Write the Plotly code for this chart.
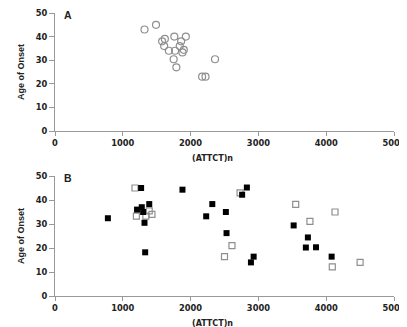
import plotly.graph_objects as go
from plotly.subplots import make_subplots

# Panel A (open circles)
a_x = [1320, 1490, 1620, 1760, 1930, 1580, 1860, 1610, 1840, 1680, 1770, 1900, 1880, 1750, 1790, 2170, 2220, 2360]
a_y = [43, 45, 39, 40, 40, 38, 38, 36, 36, 34, 34, 34.4, 33.3, 30.4, 27, 23, 23, 30.4]

# Panel B filled squares
bf_x = [780, 1270, 1210, 1280, 1300, 1390, 1320, 1330, 1880, 2320, 2230, 2520, 2530, 2830, 2760, 2930, 2890, 3520, 3730, 3700, 3850, 4080]
bf_y = [32.4, 45, 36, 37, 35, 38.3, 30.5, 18.2, 44.3, 38.3, 33.2, 35, 26.2, 45.2, 42.2, 16.4, 14, 29.4, 24.4, 20.2, 20.3, 16.4]

# Panel B open squares
bo_x = [1180, 1390, 1430, 1200, 1340, 2730, 2610, 2500, 3550, 3760, 4130, 4090, 4500]
bo_y = [45, 35.5, 34, 33.3, 33.3, 43, 21, 16.4, 38.2, 31.1, 35, 12.1, 14]

x_ticks = [0, 1000, 2000, 3000, 4000, 5000]
y_ticks = [0, 10, 20, 30, 40, 50]
panel_labels = ["A", "B"]
x_title = "(ATTCT)n"
y_title = "Age of Onset"

OFF = 8  # page body margin offset
W, H = 407 - OFF, 327 - OFF
L, R = 55 - OFF, W - (394 - OFF)

def py(page_y):
    return 1 - (page_y - OFF) / H

def px(page_x):
    return (page_x - 55) / (394 - 55)

fig = make_subplots(rows=2, cols=1)

fig.add_trace(go.Scatter(x=a_x, y=a_y, mode="markers",
                         marker=dict(symbol="circle-open", size=7, color="#8f8f8f", line=dict(width=1.2)),
                         showlegend=False), row=1, col=1)
fig.add_trace(go.Scatter(x=bo_x, y=bo_y, mode="markers",
                         marker=dict(symbol="square-open", size=6, color="#8f8f8f", line=dict(width=1.2)),
                         showlegend=False), row=2, col=1)
fig.add_trace(go.Scatter(x=bf_x, y=bf_y, mode="markers",
                         marker=dict(symbol="square", size=6, color="black"),
                         showlegend=False), row=2, col=1)

tickfont = dict(family="DejaVu Sans", size=8.3, color="#222", weight="bold")
xtitlefont = dict(family="DejaVu Sans", size=8, color="#222", weight="bold")
ytitlefont = dict(family="Liberation Sans", size=9, color="#222", weight="bold")

domains_y = [[py(131), py(13)], [py(296), py(176)]]
xtitle_y = [py(158), py(323)]
label_y = [py(14.5), py(177.5)]
for i in range(2):
    xa = "xaxis" if i == 0 else "xaxis2"
    ya = "yaxis" if i == 0 else "yaxis2"
    fig.layout[xa].update(range=[0, 5000], tickvals=x_ticks, ticks="outside", ticklen=4,
                          tickcolor="#999", showline=True, linecolor="#999", linewidth=1,
                          showgrid=False, zeroline=False, tickfont=tickfont,
                          ticklabeloverflow="allow",
                          automargin=False, domain=[0, 1])
    fig.layout[ya].update(range=[0, 50], tickvals=y_ticks, ticks="outside", ticklen=5,
                          tickcolor="#999", showline=True, linecolor="#999", linewidth=1,
                          showgrid=False, zeroline=False, tickfont=tickfont,
                          ticklabeloverflow="allow",
                          automargin=False, domain=domains_y[i])
    fig.add_annotation(text=panel_labels[i], xref="paper", yref="paper",
                       x=px(68), y=label_y[i], xanchor="center", yanchor="middle",
                       showarrow=False, font=dict(family="Liberation Sans", size=10.5, color="#222", weight="bold"))
    fig.add_annotation(text=x_title, xref="paper", yref="paper",
                       x=px(212), y=xtitle_y[i], xanchor="center", yanchor="middle",
                       showarrow=False, font=xtitlefont)
    fig.add_annotation(text=y_title, xref="paper", yref="paper", textangle=-90,
                       x=px(21), y=(domains_y[i][0] + domains_y[i][1]) / 2,
                       xanchor="center", yanchor="middle",
                       showarrow=False, font=ytitlefont)

fig.update_layout(width=W, height=H, margin=dict(l=L, r=R, t=0, b=0),
                  plot_bgcolor="white", paper_bgcolor="white")

fig.write_html("out.html")
